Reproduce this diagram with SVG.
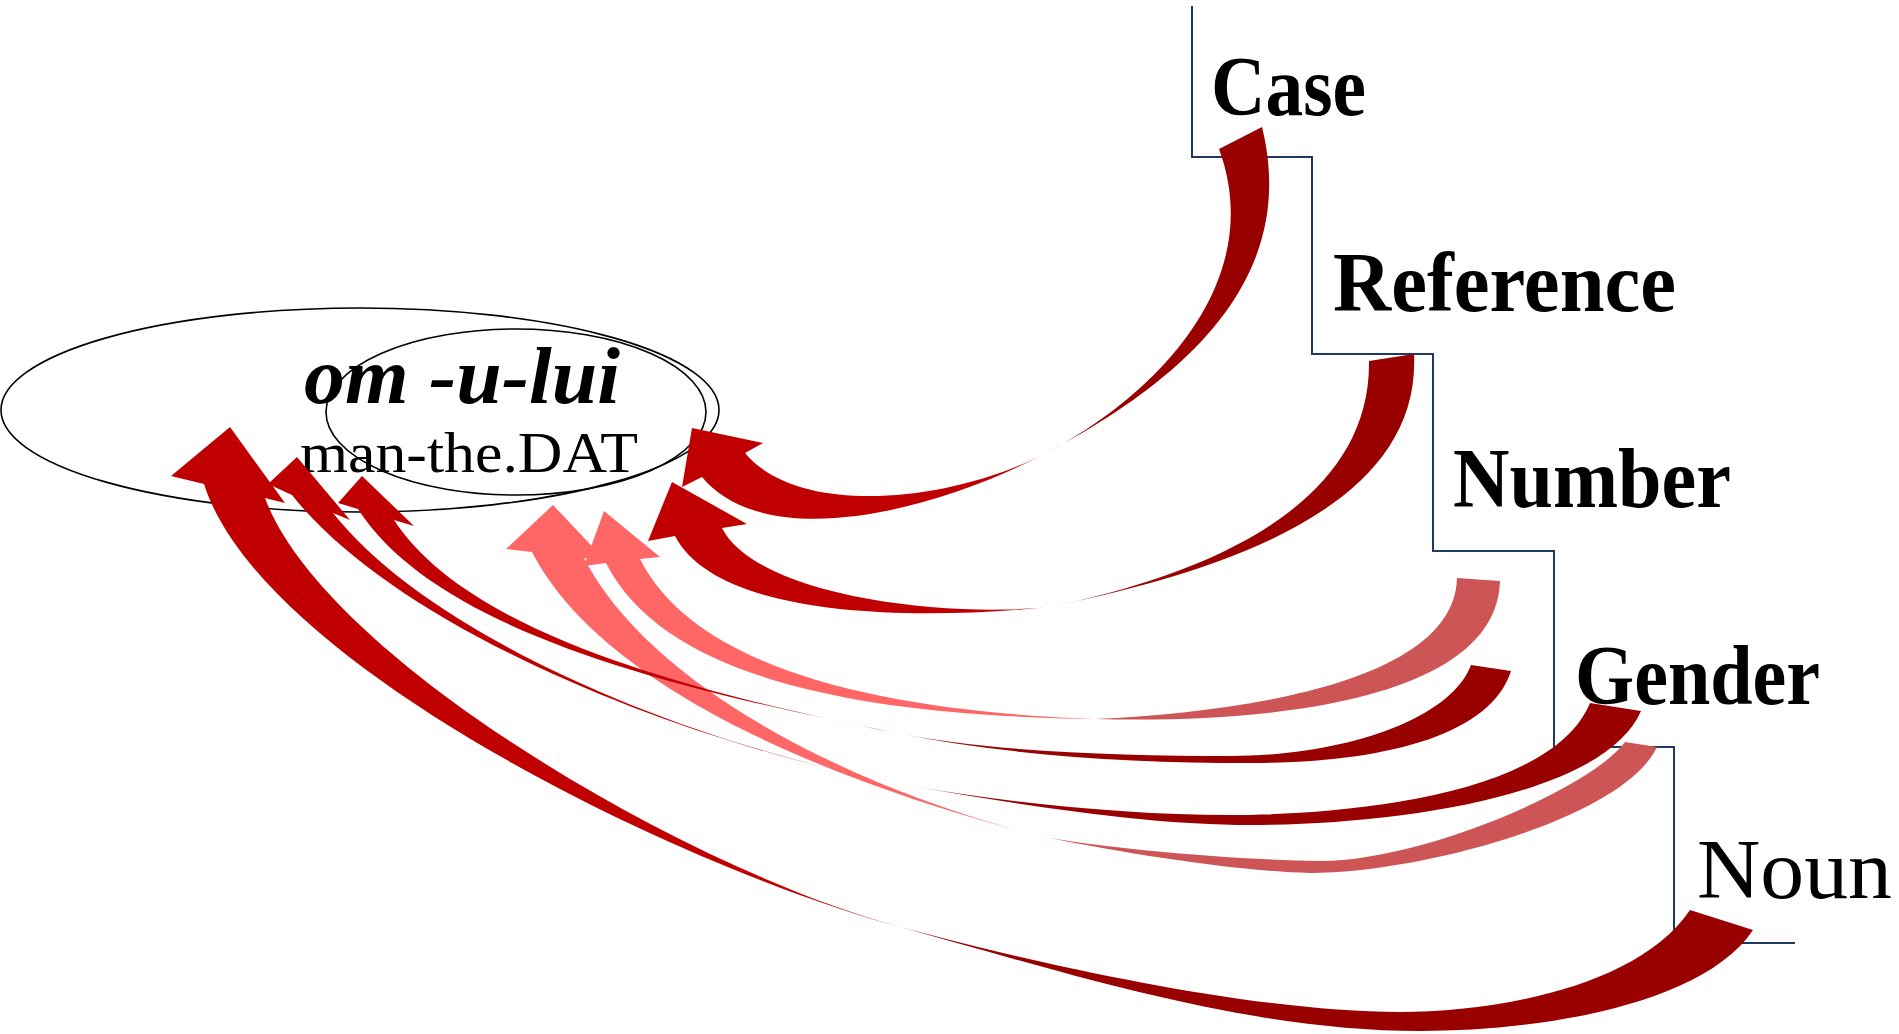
<svg xmlns="http://www.w3.org/2000/svg" width="1899" height="1034" viewBox="0 0 1899 1034">
<style>
.ell{fill:none;stroke:#000;stroke-width:1.6}
.step{fill:none;stroke:#1F3864;stroke-width:2}
.dback{fill:#990000}
.dfront{fill:#C00000}
.lback{fill:#CD5555}
.lfront{fill:#FF6666}
.lab{font-family:"Liberation Serif","Times New Roman",serif;font-weight:bold;font-size:84px;fill:#000}
.noun{font-family:"Liberation Serif","Times New Roman",serif;font-size:85px;fill:#000}
.word{font-family:"Liberation Serif","Times New Roman",serif;font-weight:bold;font-style:italic;font-size:80px;fill:#000}
.gloss{font-family:"Liberation Serif","Times New Roman",serif;font-size:58px;fill:#000}
</style>
<rect width="1899" height="1034" fill="#fff"/>
<g id="word">
<ellipse class="ell" cx="360" cy="410" rx="359" ry="102"/>
<ellipse class="ell" cx="516" cy="412" rx="190" ry="83"/>
<text class="word" x="304" y="403" textLength="316" lengthAdjust="spacingAndGlyphs">om -u-lui</text>
<text class="gloss" x="300" y="472" textLength="338" lengthAdjust="spacingAndGlyphs">man-the.DAT</text>
</g>
<g id="connectors">
<path class="step" d="M1192,6 V157 H1312 V354 H1433 V551 H1554 V747 H1674 V943 H1795"/>
<g id="arrow-gender-light">
<path class="lback" d="M1657,747 C1623,819 1420,873 1310,873 C1230,871 1112,851 1035,835 C1102,849 1240,860 1320,861 C1420,861 1589,790 1625,742 Z"/>
<path class="lfront" d="M1035,835 C824,780 601,686 532,552 L506,549 L553,505 L606,561 L584,558 C648,683 843,785 1035,835 Z"/>
</g>
<g id="arrow-number-light">
<path class="lback" d="M1500,581 C1497,700 1270,724 1095,719 C1250,712 1455,680 1457,578 Z"/>
<path class="lfront" d="M1095,719 C890,716 669,688 606,563 L584,566 L604,511 L660,557 L640,559 C698,675 900,712 1095,719 Z"/>
</g>
<g id="arrow-noun">
<path class="dback" d="M1753,930 C1703,1005 1540,1031 1420,1031 C1240,1031 1054,969 900,927 C1035,963 1250,1012 1400,1012 C1500,1012 1640,985 1690,910 Z"/>
<path class="dfront" d="M900,927 C678,867 261,664 204,484 L171,476 L230,427 L285,503 L265,498 C324,658 688,870 900,927 Z"/>
</g>
<g id="arrow-gender">
<path class="dback" d="M1641,711 C1605,795 1400,825 1250,825 C1150,825 1026,806 918,787 C1016,804 1130,815 1230,815 C1330,815 1550,800 1590,703 Z"/>
<path class="dfront" d="M918,787 C683,746 397,628 292,495 L268,484 L297,457 L350,520 L333,513 C432,638 693,748 918,787 Z"/>
</g>
<g id="arrow-number">
<path class="dback" d="M1511,671 C1490,737 1380,763 1250,763 C1130,763 1009,756 891,732 C989,752 1120,756 1230,756 C1340,756 1450,721 1471,665 Z"/>
<path class="dfront" d="M891,732 C695,692 440,637 358,509 L338,503 L362,476 L414,526 L394,520 C470,637 705,694 891,732 Z"/>
</g>
<g id="arrow-reference">
<path class="dback" d="M1414,354 C1422,514 1204,575 1049,607 C1195,577 1371,511 1369,361 Z"/>
<path class="dfront" d="M1049,607 C900,622 716,615 675,536 L648,541 L672,482 L747,524 L722,528 C756,595 940,618 1049,607 Z"/>
</g>
<g id="arrow-case">
<path class="dback" d="M1262,127 C1300,280 1182,380 1050,451 C1160,392 1267,279 1219,149 Z"/>
<path class="dfront" d="M1050,451 C936,512 766,554 702,477 L682,487 L692,428 L763,443 L745,453 C799,518 953,503 1050,451 Z"/>
</g>
</g>
<g id="label-case"><text class="lab" x="1211" y="115" textLength="155" lengthAdjust="spacingAndGlyphs">Case</text></g>
<g id="label-reference"><text class="lab" x="1333" y="311" textLength="343" lengthAdjust="spacingAndGlyphs">Reference</text></g>
<g id="label-number"><text class="lab" x="1453" y="507" textLength="278" lengthAdjust="spacingAndGlyphs">Number</text></g>
<g id="label-gender"><text class="lab" x="1575" y="704" textLength="245" lengthAdjust="spacingAndGlyphs">Gender</text></g>
<g id="label-noun"><text class="noun" x="1697" y="898" textLength="195" lengthAdjust="spacingAndGlyphs">Noun</text></g>
</svg>
